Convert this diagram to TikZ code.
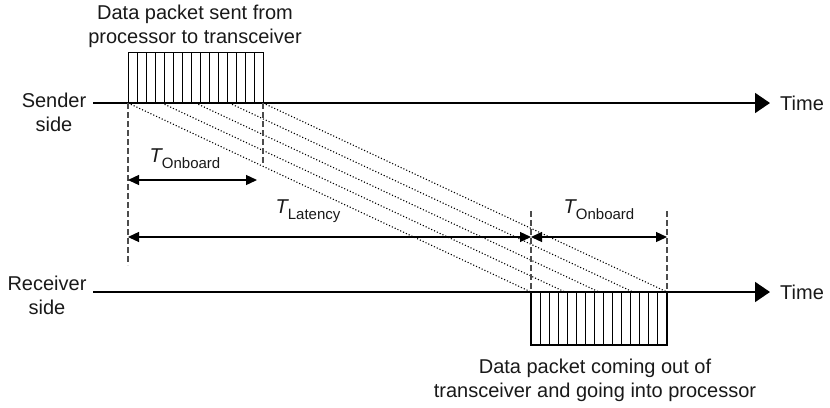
\documentclass[tikz,border=0pt]{standalone}
\usepackage{fontspec}
\setmainfont{Liberation Sans}
\usetikzlibrary{arrows.meta}
% subscripted time labels
\newcommand{\tlabel}[1]{{\itshape T}\raisebox{-6pt}{\fontsize{15}{15}\selectfont #1}}
\begin{document}
\begin{tikzpicture}[x=1pt,y=-1pt,
  lbl/.style={font=\fontsize{20}{24}\selectfont, inner sep=0pt, align=center, text=black!90},
  tlbl/.style={font=\fontsize{20}{24}\selectfont, inner sep=0pt, text=black!90},
  axis/.style={line width=1.8pt, -{Triangle[length=15pt,width=20pt]}},
  dim/.style={line width=1.3pt, {Triangle[length=11pt,width=10pt]}-{Triangle[length=11pt,width=10pt]}},
  guide/.style={line width=1.3pt, dash pattern=on 6pt off 3pt, draw=black!70},
  trail/.style={line width=1.1pt, dash pattern=on 1.1pt off 2pt},
  cell/.style={line width=0.9pt},
  frame/.style={line width=1.6pt},
]
\useasboundingbox (0,0) rectangle (830,407);

% side labels and time labels
\node[lbl] (sender)   at (54,112) {Sender\\side};
\node[lbl] (receiver) at (47,295) {Receiver\\side};
\node[lbl, anchor=west] (time1) at (780,103) {Time};
\node[lbl, anchor=west] (time2) at (780,292) {Time};

% packet captions
\node[lbl] (srcnote) at (195,26) {Data packet sent from\\processor to transceiver};
\node[lbl] (dstnote) at (595,380) {Data packet coming out of\\transceiver and going into processor};

% time axes
\coordinate (s0) at (93,103);
\coordinate (r0) at (93,292);
\draw[axis, shorten >=10pt] (s0) -- (time1.west);
\draw[axis, shorten >=10pt] (r0) -- (time2.west);

% outgoing packet on the sender side (15 slots)
\draw[cell] (128,52) -- (263,52);
\foreach \i in {0,...,15} \draw[cell] (128+\i*9,52) -- (128+\i*9,103);

% incoming packet on the receiver side (15 slots)
\foreach \i in {1,...,14} \draw[cell] (531+\i*9.067,292) -- (531+\i*9.067,345);
\draw[frame] (531,292) rectangle (667,345);

% propagation of the packet through the link
\foreach \i in {0,...,4}
  \draw[trail] (128+\i*33.75,103) -- (531+\i*34,292);

% guide lines
\coordinate (g1a) at (128,103); \coordinate (g1b) at (128,265);
\coordinate (g2a) at (263,103); \coordinate (g2b) at (263,163);
\coordinate (g3a) at (531,211); \coordinate (g3b) at (531,292);
\coordinate (g4a) at (667,211); \coordinate (g4b) at (667,292);
\draw[guide] (g1a) -- (g1b);
\draw[guide] (g2a) -- (g2b);
\draw[guide] (g3a) -- (g3b);
\draw[guide] (g4a) -- (g4b);

% dimension arrows
\coordinate (d1a) at (128,180); \coordinate (d1b) at (257,180);
\coordinate (d2a) at (128,237); \coordinate (d2b) at (531,237);
\coordinate (d3b) at (667,237);
\draw[dim] (d1a) -- (d1b);
\draw[dim] (d2a) -- (d2b);
\draw[dim] (d2b) -- (d3b);

\node[tlbl] (onboard1) at (185,159) {\tlabel{Onboard}};
\node[tlbl] (latency)  at (308,211) {\tlabel{Latency}};
\node[tlbl] (onboard2) at (599,210) {\tlabel{Onboard}};
\end{tikzpicture}
\end{document}
